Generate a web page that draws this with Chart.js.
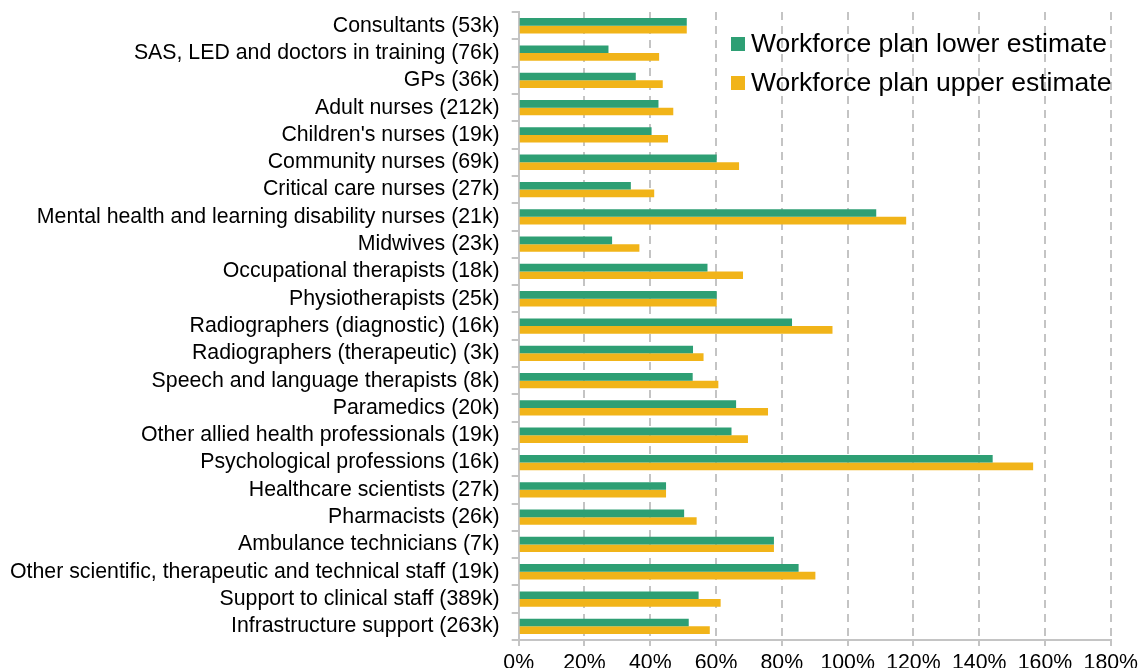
<!DOCTYPE html>
<html>
<head>
<meta charset="utf-8">
<script src="https://cdn.jsdelivr.net/npm/chart.js@4"></script>
<style>
  html, body { margin: 0; padding: 0; background: #fff; }
  #wrap { width: 1144px; height: 668px; }
</style>
</head>
<body>
<div id="wrap"><canvas id="mychart"></canvas></div>
<script>
// categories (staff group, headcount)
var categories = [
  'Consultants (53k)',
  'SAS, LED and doctors in training (76k)',
  'GPs (36k)',
  'Adult nurses (212k)',
  "Children's nurses (19k)",
  'Community nurses (69k)',
  'Critical care nurses (27k)',
  'Mental health and learning disability nurses (21k)',
  'Midwives (23k)',
  'Occupational therapists (18k)',
  'Physiotherapists (25k)',
  'Radiographers (diagnostic) (16k)',
  'Radiographers (therapeutic) (3k)',
  'Speech and language therapists (8k)',
  'Paramedics (20k)',
  'Other allied health professionals (19k)',
  'Psychological professions (16k)',
  'Healthcare scientists (27k)',
  'Pharmacists (26k)',
  'Ambulance technicians (7k)',
  'Other scientific, therapeutic and technical staff (19k)',
  'Support to clinical staff (389k)',
  'Infrastructure support (263k)'
];

// percentages
var lowerEstimate = [51.1, 27.3, 35.6, 42.5, 40.4, 60.2, 34.1, 108.7, 28.4, 57.4, 60.2, 83.1, 53.0, 52.9, 66.1, 64.7, 144.1, 44.8, 50.3, 77.6, 85.1, 54.7, 51.7];
var upperEstimate = [51.1, 42.7, 43.8, 47.0, 45.4, 67.0, 41.2, 117.8, 36.7, 68.2, 60.2, 95.4, 56.2, 60.7, 75.8, 69.7, 156.4, 44.8, 54.1, 77.6, 90.2, 61.4, 58.1];

var seriesNames = ['Workforce plan lower estimate', 'Workforce plan upper estimate'];

var xMin = 0, xMax = 180, xStep = 20;

var green = '#2e9f74';
var yellow = '#f1b419';
var gridGrey = '#c4c4c4';

// legend drawn inside the plot, top right
var insideLegend = {
  id: 'insideLegend',
  afterDraw: function(chart){
    var ctx = chart.ctx;
    ctx.save();
    ctx.font = '26.5px "Liberation Sans", Arial, sans-serif';
    ctx.textBaseline = 'middle';
    ctx.textAlign = 'left';
    chart.data.datasets.forEach(function(ds, i){
      var y = 44 + i * 39;
      ctx.fillStyle = ds.backgroundColor;
      ctx.fillRect(731, y - 7, 14, 14);
      ctx.fillStyle = '#000';
      ctx.fillText(ds.label, 751, y + 1);
    });
    ctx.restore();
  }
};

Chart.defaults.font.family = '"Liberation Sans", Arial, sans-serif';
Chart.defaults.color = '#000';

new Chart(document.getElementById('mychart'), {
  type: 'bar',
  data: {
    labels: categories,
    datasets: [
      {
        label: seriesNames[0],
        data: lowerEstimate,
        backgroundColor: green,
        categoryPercentage: 0.56,
        barPercentage: 1.0
      },
      {
        label: seriesNames[1],
        data: upperEstimate,
        backgroundColor: yellow,
        categoryPercentage: 0.56,
        barPercentage: 1.0
      }
    ]
  },
  options: {
    indexAxis: 'y',
    responsive: true,
    maintainAspectRatio: false,
    animation: false,
    layout: { padding: { top: 0, right: 4, left: -2, bottom: 0 } },
    plugins: {
      legend: { display: false },
      tooltip: { enabled: false }
    },
    scales: {
      x: {
        min: xMin,
        max: xMax,
        // bottom axis a bit lower, like the original
        afterFit: function(scale){ scale.height = 28; },
        ticks: {
          stepSize: xStep,
          font: { size: 21.3, lineHeight: 1.05 },
          padding: 6,
          callback: function(v){ return v + '%'; }
        },
        grid: {
          color: gridGrey,
          lineWidth: 2,
          tickLength: 6,
          tickColor: gridGrey
        },
        border: { color: gridGrey, width: 2, dash: [8, 6] }
      },
      y: {
        ticks: { font: { size: 21.3, lineHeight: 0.01 }, padding: 12, autoSkip: false },
        grid: {
          drawOnChartArea: false,
          color: gridGrey,
          tickLength: 7,
          lineWidth: 2
        },
        border: { color: gridGrey, width: 2 }
      }
    }
  },
  plugins: [insideLegend]
});
</script>
</body>
</html>
